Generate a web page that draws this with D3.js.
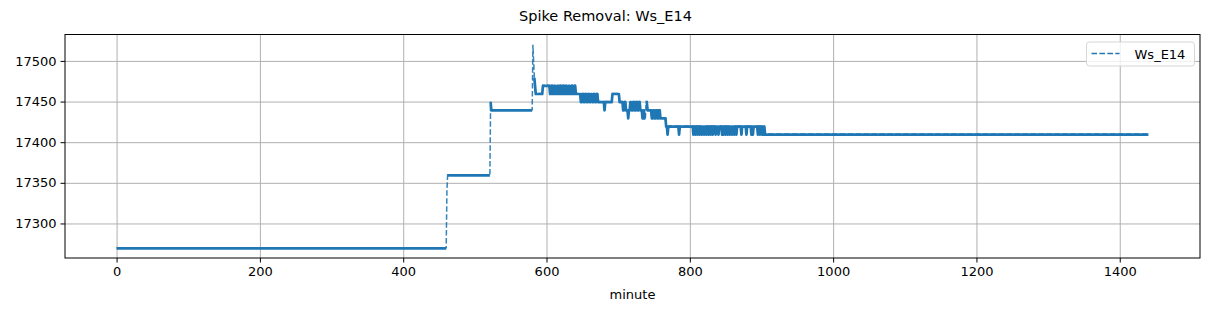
<!DOCTYPE html>
<html>
<head>
<meta charset="utf-8">
<script src="https://cdn.jsdelivr.net/npm/d3@7"></script>
<style>
  body { margin: 0; background: #fff; }
  text { font-family: "DejaVu Sans", sans-serif; fill: #000; }
  .grid line { stroke: #b0b0b0; stroke-width: 1; }
  .grid path { display: none; }
</style>
</head>
<body>
<div id="plot"></div>
<script>
// runs of constant value: [first minute, last minute, value]
var runs = [
  [0, 460, 17270], [461, 461, 17340], [462, 521, 17360], [522, 522, 17450],
  [523, 580, 17440], [581, 581, 17520], [582, 582, 17500], [583, 583, 17480],
  [584, 584, 17470], [585, 594, 17460], [595, 604, 17470],
  [605, 606, 17460], [607, 608, 17470], [609, 610, 17460], [611, 612, 17470],
  [613, 614, 17460], [615, 616, 17470], [617, 618, 17460], [619, 620, 17470],
  [621, 622, 17460], [623, 624, 17470], [625, 626, 17460], [627, 628, 17470],
  [629, 630, 17460], [631, 632, 17470], [633, 634, 17460], [635, 636, 17470],
  [637, 638, 17460], [639, 640, 17470], [641, 647, 17460],
  [648, 649, 17450], [650, 651, 17460], [652, 653, 17450], [654, 655, 17460],
  [656, 657, 17450], [658, 659, 17460], [660, 661, 17450], [662, 663, 17460],
  [664, 665, 17450], [666, 667, 17460], [668, 669, 17450], [670, 671, 17460],
  [672, 673, 17450], [674, 680, 17450], [681, 681, 17440],
  [682, 691, 17450], [692, 701, 17460], [702, 706, 17450],
  [707, 708, 17440], [709, 710, 17450], [711, 713, 17440], [714, 714, 17430],
  [715, 716, 17440], [717, 718, 17450], [719, 720, 17440], [721, 722, 17450],
  [723, 724, 17440], [725, 726, 17450], [727, 728, 17440], [729, 730, 17450],
  [731, 733, 17440], [734, 735, 17430], [736, 736, 17440], [737, 738, 17430],
  [739, 740, 17450], [741, 746, 17440],
  [747, 748, 17430], [749, 750, 17440], [751, 752, 17430], [753, 754, 17440],
  [755, 756, 17430], [757, 758, 17440], [759, 760, 17430], [761, 766, 17430],
  [767, 904, 17420], [905, 1440, 17410]
];
// single-minute dips inside the 17420 run
var dipMinutes = [769, 785, 805, 808, 811, 814, 817, 820, 823, 826, 829, 832, 836, 840,
  845, 847, 850, 853, 856, 859, 862, 865, 872, 879, 886, 888, 895, 898, 901, 903];
var dipValue = 17410;

var xTicks = [0, 200, 400, 600, 800, 1000, 1200, 1400];
var yTicks = [17300, 17350, 17400, 17450, 17500];
var seriesName = "Ws_E14";

var svgWidth = 1211, svgHeight = 311;
var margin = { top: 34.5, right: 11, bottom: 53, left: 65 };
var width = svgWidth - margin.left - margin.right;
var height = svgHeight - margin.top - margin.bottom;
var color = "#1f77b4";

// one value per minute, taken from the runs
var data = [];
runs.forEach(function(r) {
  for (var m = r[0]; m <= r[1]; m++) data[m] = { minute: m, value: r[2] };
});
dipMinutes.forEach(function(m) { data[m].value = dipValue; });

// pieces between the big jumps (those stay dashed only)
var pieces = [[data[0]]];
for (var i = 1; i < data.length; i++) {
  if (Math.abs(data[i].value - data[i - 1].value) > 15) pieces.push([]);
  pieces[pieces.length - 1].push(data[i]);
}

var svg = d3.select("#plot").append("svg")
  .attr("width", svgWidth)
  .attr("height", svgHeight);

var chartGroup = svg.append("g")
  .attr("transform", `translate(${margin.left}, ${margin.top})`);

var xExt = d3.extent(data, d => d.minute);
var yExt = d3.extent(data, d => d.value);
var xPad = (xExt[1] - xExt[0]) * 0.05;
var yPad = (yExt[1] - yExt[0]) * 0.05;

var xScale = d3.scaleLinear().domain([xExt[0] - xPad, xExt[1] + xPad]).range([0, width]);
var yScale = d3.scaleLinear().domain([yExt[0] - yPad, yExt[1] + yPad]).range([height, 0]);

// gridlines
chartGroup.append("g").attr("class", "grid")
  .attr("transform", `translate(0, ${height})`)
  .call(d3.axisBottom(xScale).tickValues(xTicks).tickSize(-height).tickFormat(""));
chartGroup.append("g").attr("class", "grid")
  .call(d3.axisLeft(yScale).tickValues(yTicks).tickSize(-width).tickFormat(""));

var line = d3.line()
  .x(d => xScale(d.minute))
  .y(d => yScale(d.value));

// solid body of the noisy stretches
chartGroup.append("g").selectAll("path")
  .data(pieces.filter(p => p.length > 1))
  .enter().append("path")
  .attr("d", line)
  .attr("transform", "translate(0, 0.6)")
  .attr("fill", "none")
  .attr("stroke", color)
  .attr("stroke-width", 2.7)
  .attr("stroke-linejoin", "round");

chartGroup.append("path")
  .datum(data)
  .attr("d", line)
  .attr("fill", "none")
  .attr("stroke", color)
  .attr("stroke-width", 1.5)
  .attr("stroke-dasharray", "5.55,2.4")
  .attr("opacity", 0.9);

// axes
var fmt = d3.format("d");
var bottomAxis = d3.axisBottom(xScale).tickValues(xTicks).tickFormat(fmt).tickSizeOuter(0).tickSize(4.5).tickPadding(4);
var leftAxis = d3.axisLeft(yScale).tickValues(yTicks).tickFormat(fmt).tickSizeOuter(0).tickSize(4.5).tickPadding(4);

var xAxisG = chartGroup.append("g").attr("transform", `translate(0, ${height})`).call(bottomAxis);
var yAxisG = chartGroup.append("g").call(leftAxis);
[xAxisG, yAxisG].forEach(function(g) {
  g.select(".domain").remove();
  g.selectAll("line").attr("stroke", "#000").attr("stroke-width", 1);
  g.selectAll("text").style("font-size", "13px").attr("fill", "#000");
});

// frame
chartGroup.append("rect")
  .attr("width", width).attr("height", height)
  .attr("fill", "none").attr("stroke", "#000").attr("stroke-width", 1);

// labels
svg.append("text")
  .attr("x", margin.left + width / 2).attr("y", 299)
  .attr("text-anchor", "middle").style("font-size", "13px")
  .text("minute");

svg.append("text")
  .attr("x", svgWidth / 2).attr("y", 21)
  .attr("text-anchor", "middle").style("font-size", "14.5px")
  .text("Spike Removal: " + seriesName);

// legend
var legend = svg.append("g").attr("transform", "translate(1086.5, 42)");
legend.append("rect")
  .attr("width", 108).attr("height", 24).attr("rx", 3)
  .attr("fill", "#fff").attr("fill-opacity", 0.8)
  .attr("stroke", "#d6d6d6").attr("stroke-width", 1);
legend.append("line")
  .attr("x1", 5).attr("x2", 33).attr("y1", 11.5).attr("y2", 11.5)
  .attr("stroke", color).attr("stroke-width", 1.5)
  .attr("stroke-dasharray", "5.55,2.4");
legend.append("text")
  .attr("x", 48).attr("y", 16.5).style("font-size", "13px")
  .text(seriesName);
</script>
</body>
</html>
